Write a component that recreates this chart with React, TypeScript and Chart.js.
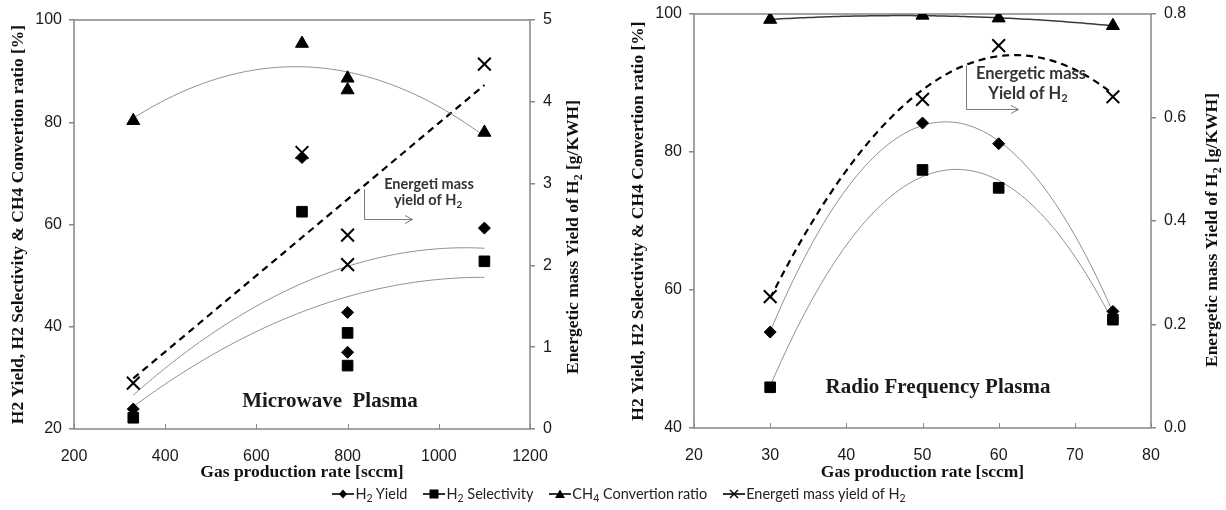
import React, { useEffect, useRef } from 'react';
import { Chart, registerables } from 'chart.js';

Chart.register(...registerables);

// ---------------- Data: Microwave plasma (left panel) ----------------
const mwRate = [330, 700, 800, 800, 1100];
const mwH2Yield = [23.9, 73.1, 42.8, 35.0, 59.3];
const mwH2Selectivity = [22.2, 62.5, 38.8, 32.4, 52.8];
const mwCH4Conversion = [80.3, 95.4, 88.6, 86.3, 78.0];
const mwEnergeticYield = [0.56, 3.38, 2.37, 2.01, 4.46];
const mwXTicks = [200, 400, 600, 800, 1000, 1200];
const mwYTicks = [20, 40, 60, 80, 100];
const mwY2Ticks = [0, 1, 2, 3, 4, 5];

// ---------------- Data: Radio frequency plasma (right panel) ----------------
const rfRate = [30, 50, 60, 75];
const rfH2Yield = [53.9, 84.2, 81.2, 56.9];
const rfH2Selectivity = [45.9, 77.4, 74.8, 55.7];
const rfCH4Conversion = [99.2, 99.8, 99.4, 98.3];
const rfEnergeticYield = [0.254, 0.635, 0.739, 0.64];
const rfXTicks = [20, 30, 40, 50, 60, 70, 80];
const rfYTicks = [40, 60, 80, 100];
const rfY2Ticks = [0, 0.2, 0.4, 0.6, 0.8];

// ---------------- Text ----------------
const xAxisTitle = 'Gas production rate [sccm]';
const yAxisTitle = 'H2 Yield, H2 Selectivity & CH4 Convertion ratio [%]';
type Part = { t: string; sub?: boolean };
const y2AxisTitle: Part[] = [{ t: 'Energetic mass Yield of H' }, { t: '2', sub: true }, { t: ' [g/KWH]' }];
const mwNoteLine1: Part[] = [{ t: 'Energeti mass' }];
const mwNoteLine2: Part[] = [{ t: 'yield of H' }, { t: '2', sub: true }];
const rfNoteLine1: Part[] = [{ t: 'Energetic mass' }];
const rfNoteLine2: Part[] = [{ t: 'Yield of H' }, { t: '2', sub: true }];
const mwPanelLabel = 'Microwave  Plasma';
const rfPanelLabel = 'Radio Frequency Plasma';

const legendItems = [
  { marker: 'diamond', parts: [{ t: 'H' }, { t: '2', sub: true }, { t: ' Yield' }] },
  { marker: 'square', parts: [{ t: 'H' }, { t: '2', sub: true }, { t: ' Selectivity' }] },
  { marker: 'triangle', parts: [{ t: 'CH' }, { t: '4', sub: true }, { t: ' Convertion ratio' }] },
  { marker: 'x', parts: [{ t: 'Energeti mass yield of H' }, { t: '2', sub: true }] },
];

// ---------------- Styles ----------------
const AXIS_GRAY = '#878787';
const TREND_GRAY = '#8f8f8f';
const TEXT_DARK = '#1a1a1a';
const SANS = '"Liberation Sans", Arial, sans-serif';
const SERIF = '"Liberation Serif", "Times New Roman", serif';
const NOTE_FONT = 'Lato, "Open Sans", sans-serif';

// least-squares polynomial trend line (as the spreadsheet trendline)
function polyFit(us: number[], ys: number[], degree: number): number[] {
  const n = degree + 1;
  const A: number[][] = Array.from({ length: n }, () => new Array(n + 1).fill(0));
  for (let i = 0; i < us.length; i++) {
    for (let r = 0; r < n; r++) {
      for (let c = 0; c < n; c++) A[r][c] += Math.pow(us[i], r + c);
      A[r][n] += ys[i] * Math.pow(us[i], r);
    }
  }
  for (let col = 0; col < n; col++) {
    let piv = col;
    for (let r = col + 1; r < n; r++) if (Math.abs(A[r][col]) > Math.abs(A[piv][col])) piv = r;
    const tmp = A[col]; A[col] = A[piv]; A[piv] = tmp;
    for (let r = 0; r < n; r++) {
      if (r === col) continue;
      const f = A[r][col] / A[col][col];
      for (let c = col; c <= n; c++) A[r][c] -= f * A[col][c];
    }
  }
  return A.map((row, i) => row[n] / row[i]);
}

function trendLine(xs: number[], ys: number[], degree: number, steps = 90) {
  const xmin = Math.min(...xs);
  const xmax = Math.max(...xs);
  const mean = xs.reduce((a, b) => a + b, 0) / xs.length;
  const sc = (xmax - xmin) / 2 || 1;
  const coef = polyFit(xs.map((x) => (x - mean) / sc), ys, degree);
  const pts: { x: number; y: number }[] = [];
  for (let i = 0; i <= steps; i++) {
    const x = xmin + ((xmax - xmin) * i) / steps;
    const u = (x - mean) / sc;
    let y = 0;
    for (let k = coef.length - 1; k >= 0; k--) y = y * u + coef[k];
    pts.push({ x, y });
  }
  return pts;
}

const toPoints = (xs: number[], ys: number[]) => xs.map((x, i) => ({ x, y: ys[i] }));

function drawParts(
  ctx: CanvasRenderingContext2D, parts: Part[], cx: number, cy: number,
  size: number, family: string, weight: string, color: string, rotate = false,
) {
  const main = `${weight} ${size}px ${family}`;
  const subSize = size * 0.68;
  const sub = `${weight} ${subSize}px ${family}`;
  let total = 0;
  const widths = parts.map((p) => {
    ctx.font = p.sub ? sub : main;
    const w = ctx.measureText(p.t).width;
    total += w;
    return w;
  });
  ctx.save();
  ctx.translate(cx, cy);
  if (rotate) ctx.rotate(-Math.PI / 2);
  ctx.fillStyle = color;
  ctx.textAlign = 'left';
  ctx.textBaseline = 'alphabetic';
  let x = -total / 2;
  const base = size * 0.35;
  parts.forEach((p, i) => {
    ctx.font = p.sub ? sub : main;
    ctx.fillText(p.t, x, base + (p.sub ? size * 0.22 : 0));
    x += widths[i];
  });
  ctx.restore();
}

interface PanelSpec {
  left: number; width: number; height: number;
  plot: { left: number; right: number; top: number; bottom: number };
  xs: number[]; h2Yield: number[]; h2Sel: number[]; ch4: number[]; energy: number[];
  xTicks: number[]; yTicks: number[]; y2Ticks: number[]; y2Decimals: number;
  energyDegree: number; convColor: string; convWidth: number;
  leftTitlePad: number; rightTitle: { x: number; y: number };
  notes: { parts: Part[]; x: number; y: number }[]; noteSize: number;
  arrow: number[][];
  label: { text: string; x: number; y: number };
}

const panels: PanelSpec[] = [
  {
    left: 0, width: 610, height: 485,
    plot: { left: 74, right: 530, top: 20, bottom: 429 },
    xs: mwRate, h2Yield: mwH2Yield, h2Sel: mwH2Selectivity, ch4: mwCH4Conversion, energy: mwEnergeticYield,
    xTicks: mwXTicks, yTicks: mwYTicks, y2Ticks: mwY2Ticks, y2Decimals: 0,
    energyDegree: 1, convColor: TREND_GRAY, convWidth: 1,
    leftTitlePad: 7.5, rightTitle: { x: 572, y: 237 },
    notes: [
      { parts: mwNoteLine1, x: 429, y: 184 },
      { parts: mwNoteLine2, x: 428, y: 200 },
    ],
    noteSize: 14.5,
    arrow: [[364, 189], [364, 219], [412, 219]],
    label: { text: mwPanelLabel, x: 330, y: 400 },
  },
  {
    left: 610, width: 616, height: 485,
    plot: { left: 84, right: 541, top: 14, bottom: 428 },
    xs: rfRate, h2Yield: rfH2Yield, h2Sel: rfH2Selectivity, ch4: rfCH4Conversion, energy: rfEnergeticYield,
    xTicks: rfXTicks, yTicks: rfYTicks, y2Ticks: rfY2Ticks, y2Decimals: 1,
    energyDegree: 2, convColor: '#3a3a3a', convWidth: 1.5,
    leftTitlePad: 17.5, rightTitle: { x: 601, y: 230 },
    notes: [
      { parts: rfNoteLine1, x: 421, y: 73 },
      { parts: rfNoteLine2, x: 418, y: 93 },
    ],
    noteSize: 16.5,
    arrow: [[356, 65], [356, 109], [408, 109]],
    label: { text: rfPanelLabel, x: 328, y: 386 },
  },
];

function Panel({ spec }: { spec: PanelSpec }) {
  const ref = useRef<HTMLCanvasElement | null>(null);
  useEffect(() => {
    if (!ref.current) return;
    const s = spec;
    const markerBase = { backgroundColor: '#000', borderColor: '#000', showLine: false, yAxisID: 'y' };
    const trendBase = { showLine: true, pointRadius: 0, borderColor: TREND_GRAY, borderWidth: 1, yAxisID: 'y', fill: false };
    const tickFont = { family: SANS, size: 16 };
    const titleFont = { family: SERIF, size: 17.5, weight: 'bold' as const };
    const setTicks = (arr: number[]) => (scale: any) => { scale.ticks = arr.map((v) => ({ value: v })); };

    const decor = {
      id: 'decor',
      beforeDatasetsDraw(chart: any) {
        const { ctx, chartArea: a } = chart;
        ctx.save();
        ctx.strokeStyle = AXIS_GRAY;
        ctx.lineWidth = 1.5;
        ctx.strokeRect(a.left, a.top, a.right - a.left, a.bottom - a.top);
        const xs = chart.scales.x;
        ctx.lineWidth = 1;
        s.xTicks.forEach((v) => {
          const px = Math.round(xs.getPixelForValue(v)) + 0.5;
          ctx.beginPath();
          ctx.moveTo(px, a.bottom);
          ctx.lineTo(px, a.bottom - 5);
          ctx.stroke();
        });
        ctx.restore();
      },
      afterDraw(chart: any) {
        const ctx: CanvasRenderingContext2D = chart.ctx;
        ctx.save();
        ctx.strokeStyle = '#7a7a7a';
        ctx.lineWidth = 1;
        ctx.beginPath();
        s.arrow.forEach(([x, y], i) => (i === 0 ? ctx.moveTo(x + 0.5, y + 0.5) : ctx.lineTo(x + 0.5, y + 0.5)));
        ctx.stroke();
        const [ex, ey] = s.arrow[s.arrow.length - 1];
        ctx.beginPath();
        ctx.moveTo(ex - 7, ey - 3.5);
        ctx.lineTo(ex + 0.5, ey + 0.5);
        ctx.lineTo(ex - 7, ey + 4.5);
        ctx.stroke();
        ctx.restore();
        s.notes.forEach((n) => drawParts(ctx, n.parts, n.x, n.y, s.noteSize, NOTE_FONT, 'bold', '#333333'));
        drawParts(ctx, [{ t: s.label.text }], s.label.x, s.label.y, 21, SERIF, 'bold', '#1a1a1a');
        drawParts(ctx, y2AxisTitle, s.rightTitle.x, s.rightTitle.y, 17.5, SERIF, 'bold', '#111111', true);
      },
    };

    const chart = new Chart(ref.current, {
      type: 'scatter',
      data: {
        datasets: [
          { ...markerBase, label: 'H2 Yield', data: toPoints(s.xs, s.h2Yield), pointStyle: 'rectRot', pointRadius: 6, borderWidth: 1 },
          { ...markerBase, label: 'H2 Selectivity', data: toPoints(s.xs, s.h2Sel), pointStyle: 'rect', pointRadius: 7.5, borderWidth: 1 },
          { ...markerBase, label: 'CH4 Convertion ratio', data: toPoints(s.xs, s.ch4), pointStyle: 'triangle', pointRadius: 7.5, borderWidth: 1 },
          { ...markerBase, label: 'Energeti mass yield of H2', data: toPoints(s.xs, s.energy), pointStyle: 'crossRot', pointRadius: 9, borderWidth: 2, yAxisID: 'y2' },
          { ...trendBase, label: 'trend yield', data: trendLine(s.xs, s.h2Yield, 2) },
          { ...trendBase, label: 'trend selectivity', data: trendLine(s.xs, s.h2Sel, 2) },
          { ...trendBase, label: 'trend conversion', data: trendLine(s.xs, s.ch4, 2), borderColor: s.convColor, borderWidth: s.convWidth },
          { ...trendBase, label: 'trend energy', data: trendLine(s.xs, s.energy, s.energyDegree), borderColor: '#000', borderWidth: 2.2, borderDash: [7, 5], yAxisID: 'y2' },
        ] as any,
      },
      options: {
        animation: false,
        responsive: false,
        events: [],
        layout: { padding: { top: s.plot.top, left: 0, right: 0, bottom: 0 } },
        plugins: { legend: { display: false }, tooltip: { enabled: false } },
        scales: {
          x: {
            type: 'linear',
            min: s.xTicks[0], max: s.xTicks[s.xTicks.length - 1],
            afterBuildTicks: setTicks(s.xTicks),
            ticks: { font: tickFont, color: TEXT_DARK, padding: 10, maxRotation: 0, autoSkip: false, callback: (v: any) => String(v) },
            grid: { display: false },
            border: { display: false },
            title: { display: true, text: xAxisTitle, font: titleFont, color: '#111', padding: { top: 0, bottom: 2 } },
            afterFit: (sc: any) => { sc.height = s.height - s.plot.bottom; sc.paddingLeft = 0; sc.paddingRight = 0; },
          },
          y: {
            type: 'linear', position: 'left',
            min: s.yTicks[0], max: s.yTicks[s.yTicks.length - 1],
            afterBuildTicks: setTicks(s.yTicks),
            ticks: { font: tickFont, color: TEXT_DARK, padding: 7, callback: (v: any) => String(v) },
            grid: { display: true, drawOnChartArea: false, drawTicks: true, tickLength: 5, color: AXIS_GRAY, lineWidth: 1.5 },
            border: { display: false },
            title: { display: true, text: yAxisTitle, font: titleFont, color: '#111', padding: { top: s.leftTitlePad, bottom: 0 } },
            afterFit: (sc: any) => { sc.width = s.plot.left; sc.paddingTop = 0; sc.paddingBottom = 0; },
          },
          y2: {
            type: 'linear', position: 'right',
            min: s.y2Ticks[0], max: s.y2Ticks[s.y2Ticks.length - 1],
            afterBuildTicks: setTicks(s.y2Ticks),
            ticks: { font: tickFont, color: TEXT_DARK, padding: 8, callback: (v: any) => Number(v).toFixed(s.y2Decimals) },
            grid: { display: true, drawOnChartArea: false, drawTicks: true, tickLength: 5, color: AXIS_GRAY, lineWidth: 1.5 },
            border: { display: false },
            title: { display: false },
            afterFit: (sc: any) => { sc.width = s.width - s.plot.right; sc.paddingTop = 0; sc.paddingBottom = 0; },
          },
        },
      } as any,
      plugins: [decor],
    });
    return () => chart.destroy();
  }, [spec]);

  return (
    <canvas
      ref={ref}
      width={spec.width}
      height={spec.height}
      style={{ position: 'absolute', left: spec.left, top: 0, width: spec.width, height: spec.height }}
    />
  );
}

function LegendMarker({ kind }: { kind: string }) {
  return (
    <svg width={22} height={12} style={{ display: 'block', marginRight: 1 }}>
      <line x1={0} y1={6} x2={22} y2={6} stroke="#000" strokeWidth={1.6} />
      {kind === 'diamond' && <polygon points="11,1.5 15,6 11,10.5 7,6" fill="#000" />}
      {kind === 'square' && <rect x={6.5} y={1.5} width={9} height={9} fill="#000" />}
      {kind === 'triangle' && <polygon points="11,1.5 16,10 6,10" fill="#000" />}
      {kind === 'x' && (
        <g stroke="#000" strokeWidth={1.4}>
          <line x1={7} y1={2} x2={15} y2={10} />
          <line x1={15} y1={2} x2={7} y2={10} />
        </g>
      )}
    </svg>
  );
}

export default function App() {
  return (
    <div style={{ position: 'absolute', left: 0, top: 0, width: 1226, height: 510, background: '#fff', overflow: 'hidden' }}>
      {panels.map((p, i) => (
        <Panel key={i} spec={p} />
      ))}
      <div
        style={{
          position: 'absolute', left: 6, top: 484, width: 1226, height: 20,
          display: 'flex', justifyContent: 'center', alignItems: 'center', gap: 16,
          fontFamily: NOTE_FONT, fontSize: 14.5, color: '#222', whiteSpace: 'nowrap',
        }}
      >
        {legendItems.map((it, i) => (
          <div key={i} style={{ display: 'flex', alignItems: 'center' }}>
            <LegendMarker kind={it.marker} />
            <span>
              {it.parts.map((p, j) =>
                p.sub ? (
                  <sub key={j} style={{ fontSize: '0.72em', verticalAlign: '-0.25em' }}>{p.t}</sub>
                ) : (
                  <span key={j}>{p.t}</span>
                ),
              )}
            </span>
          </div>
        ))}
      </div>
    </div>
  );
}
